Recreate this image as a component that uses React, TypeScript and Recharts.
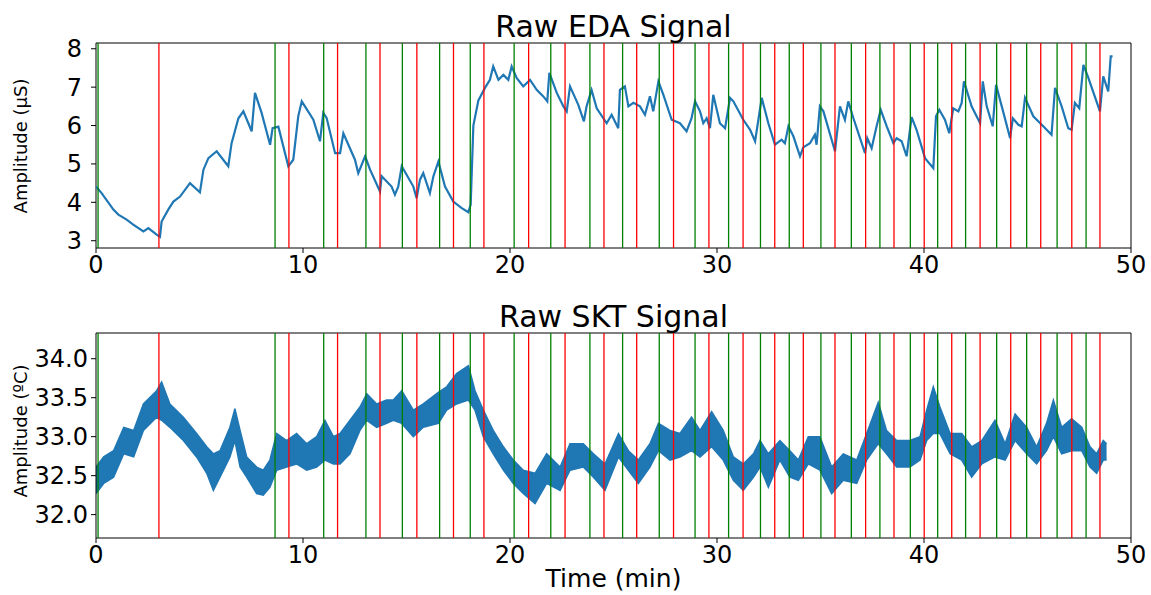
import {
  ComposedChart,
  Line,
  Area,
  XAxis,
  YAxis,
  ReferenceLine,
  ReferenceArea,
} from 'recharts';

const FONT = 'DejaVu Sans, sans-serif';
const BLUE = '#1f77b4';

// event markers (minutes)
const greenMarks = [
  0.1, 8.65, 11.0, 13.04, 14.8, 16.6, 18.08, 20.2, 21.97, 23.86, 25.44, 27.21, 28.94,
  30.56, 32.1, 33.49, 35.02, 36.49, 37.87, 39.34, 40.66, 42.01, 43.51, 44.96, 46.43, 47.83,
];
const redMarks = [
  3.04, 9.32, 11.67, 13.72, 15.5, 17.27, 18.74, 20.9, 22.66, 24.54, 26.12, 27.9, 29.61,
  31.26, 32.79, 34.17, 35.7, 37.18, 38.55, 40.01, 41.34, 42.71, 44.19, 45.64, 47.14, 48.5,
];

const xTicks = [0, 10, 20, 30, 40, 50];
const edaTicks = [3, 4, 5, 6, 7, 8];
const sktTicks = [32, 32.5, 33, 33.5, 34];

// EDA trace
const edaTime = [
  0, 0.27, 0.84, 1.08, 1.48, 1.8, 2.29, 2.53, 2.93, 3.09, 3.17, 3.49, 3.74, 4.06, 4.54, 5.02,
  5.19, 5.43, 5.83, 6.39, 6.55, 6.88, 7.12, 7.52, 7.68, 8.0, 8.41, 8.53, 8.81, 9.29, 9.53, 9.77,
  9.94, 10.5, 10.82, 10.98, 11.14, 11.55, 11.79, 11.95, 12.51, 12.67, 13.0, 13.24, 13.72, 13.8,
  14.28, 14.44, 14.6, 14.77, 15.33, 15.49, 15.65, 15.81, 16.13, 16.3, 16.54, 16.86, 17.26, 17.67,
  17.99, 18.1, 18.23, 18.47, 18.79, 19.03, 19.19, 19.44, 19.68, 19.92, 20.08, 20.32, 20.64, 20.97,
  21.29, 21.61, 21.8, 21.9, 22.26, 22.58, 22.74, 22.9, 23.3, 23.57, 23.7, 23.94, 24.19, 24.67,
  24.91, 25.23, 25.31, 25.55, 25.72, 25.96, 26.28, 26.52, 26.76, 26.92, 27.17, 27.41, 27.81,
  28.21, 28.53, 28.77, 28.94, 29.18, 29.34, 29.5, 29.66, 29.82, 30.14, 30.39, 30.63, 30.79, 31.27,
  31.6, 31.84, 32.16, 32.48, 32.8, 33.12, 33.28, 33.45, 33.69, 34.01, 34.17, 34.49, 34.73, 34.81,
  34.97, 35.14, 35.7, 35.94, 36.18, 36.34, 36.59, 37.15, 37.26, 37.47, 37.71, 37.91, 38.2, 38.52,
  38.68, 38.92, 39.16, 39.4, 39.64, 40.05, 40.45, 40.58, 40.74, 41.01, 41.22, 41.41, 41.66, 41.82,
  41.93, 42.3, 42.71, 42.84, 43.03, 43.32, 43.48, 43.84, 44.16, 44.29, 44.56, 44.72, 44.88, 45.28,
  45.76, 46.16, 46.33, 46.65, 46.97, 47.13, 47.29, 47.5, 47.7, 47.94, 48.5, 48.66, 48.9, 49.02,
  49.11,
];
const edaValue = [
  4.41, 4.24, 3.81, 3.68, 3.55, 3.42, 3.24, 3.33, 3.16, 3.1, 3.5, 3.81, 4.02, 4.15, 4.5, 4.26,
  4.85, 5.15, 5.33, 4.94, 5.54, 6.19, 6.37, 5.85, 6.85, 6.33, 5.5, 5.93, 5.97, 4.94, 5.11, 6.24,
  6.63, 6.15, 5.59, 6.33, 6.2, 5.28, 5.28, 5.8, 5.11, 4.76, 5.2, 4.85, 4.28, 4.68,
  4.41, 4.2, 4.41, 4.94, 4.41, 4.11, 4.59, 4.76, 4.24, 4.68, 5.06, 4.41, 4.02, 3.85,
  3.74, 3.94, 6.0, 6.65, 6.98, 7.19, 7.54, 7.19, 7.32, 7.19, 7.54, 7.24, 7.02, 7.19,
  6.93, 6.76, 6.63, 7.37, 6.85, 6.5, 6.37, 7.02, 6.54, 6.11, 6.5, 6.93, 6.45, 6.06,
  6.28, 5.93, 6.93, 7.02, 6.5, 6.59, 6.5, 6.28, 6.76, 6.37, 7.15, 6.8, 6.15,
  6.06, 5.85, 6.19, 6.63, 6.37, 6.06, 6.19, 5.93, 6.8, 6.06, 5.93, 6.72, 6.63, 6.15,
  5.89, 5.59, 6.72, 6.06, 5.5, 5.63, 5.54, 5.98, 5.72, 5.2, 5.43, 5.54, 5.76, 5.5,
  6.5, 6.37, 5.33, 6.5, 6.15, 6.63, 6.19, 5.28, 5.67, 5.41, 5.98, 6.41, 5.98, 5.54,
  5.67, 5.59, 5.2, 6.22, 5.89, 5.15, 4.89, 6.24, 6.41, 6.15, 5.8, 6.45, 6.37, 6.59,
  7.15, 6.5, 6.06, 7.15, 6.5, 5.98, 7.06, 6.33, 5.67, 6.19, 6.02, 5.98, 6.72, 6.24,
  5.98, 5.76, 6.98, 6.5, 5.93, 5.89, 6.59, 6.45, 7.58, 7.24, 6.37, 7.28, 6.89, 7.8,
  7.8,
];

// SKT trace is a thick noisy band: lower / upper envelope
const sktTime = [
  0, 0.37, 0.85, 1.34, 1.82, 2.29, 2.93, 3.17, 3.57, 4.22, 4.86, 5.35, 5.67, 5.99, 6.47, 6.71,
  6.96, 7.28, 7.76, 8.08, 8.4, 8.73, 9.21, 9.69, 10.18, 10.66, 11.06, 11.47, 11.79, 12.27, 12.75,
  13.08, 13.56, 14.04, 14.36, 14.77, 15.33, 15.81, 16.54, 16.94, 17.42, 17.99, 18.31, 18.71,
  19.19, 19.68, 20.16, 20.64, 21.21, 21.77, 22.42, 22.9, 23.54, 24.03, 24.59, 25.24, 25.72, 26.2,
  26.76, 27.17, 27.73, 28.21, 28.77, 29.18, 29.74, 30.3, 30.79, 31.27, 31.76, 32.08, 32.48, 33.04,
  33.52, 33.93, 34.41, 34.97, 35.54, 36.1, 36.75, 37.23, 37.79, 38.19, 38.68, 39.32, 39.81, 40.13,
  40.45, 40.77, 41.26, 41.82, 42.3, 42.79, 43.43, 43.92, 44.4, 44.96, 45.44, 45.92, 46.25, 46.65,
  47.13, 47.62, 48.02, 48.34, 48.66, 48.82,
];
const sktLow = [
  32.27, 32.4, 32.48, 32.78, 32.74, 33.08, 33.25, 33.21, 33.12, 32.95, 32.74, 32.53, 32.31, 32.48,
  32.74, 32.95, 32.61, 32.48, 32.27, 32.25, 32.35, 32.57, 32.61, 32.65, 32.57, 32.61, 32.7, 32.65,
  32.65, 32.78, 33.08, 33.21, 33.12, 33.17, 33.21, 33.17, 33.0, 33.12, 33.17, 33.34, 33.42, 33.47,
  33.34, 33.0, 32.78, 32.57, 32.4, 32.27, 32.14, 32.4, 32.31, 32.57, 32.61, 32.48, 32.31, 32.74,
  32.57, 32.4, 32.61, 32.82, 32.7, 32.74, 32.82, 32.74, 32.87, 32.7, 32.44, 32.31, 32.48, 32.61,
  32.35, 32.7, 32.48, 32.44, 32.65, 32.57, 32.27, 32.44, 32.4, 32.7, 32.91, 32.78, 32.61, 32.61,
  32.7, 32.95, 33.04, 33.04, 32.78, 32.7, 32.48, 32.65, 32.74, 32.7, 32.95, 32.78, 32.65, 32.82,
  33.0, 32.78, 32.82, 32.82, 32.61, 32.53, 32.7, 32.7,
];
const sktHigh = [
  32.61, 32.74, 32.82, 33.12, 33.08, 33.42, 33.59, 33.7, 33.42, 33.25, 33.04, 32.87, 32.78, 32.82,
  33.12, 33.36, 33.08, 32.74, 32.61, 32.57, 32.7, 33.04, 32.95, 33.04, 32.91, 33.0, 33.21, 33.0,
  33.04, 33.21, 33.38, 33.55, 33.42, 33.47, 33.47, 33.59, 33.34, 33.42, 33.57, 33.64, 33.81, 33.91,
  33.59, 33.34, 33.08, 32.87, 32.7, 32.57, 32.53, 32.78, 32.61, 32.91, 32.91, 32.78, 32.65, 33.04,
  32.82, 32.7, 32.91, 33.17, 33.08, 33.04, 33.25, 33.08, 33.32, 33.08, 32.74, 32.65, 32.78, 32.95,
  32.78, 32.95, 32.82, 32.7, 33.0, 33.0, 32.61, 32.78, 32.7, 33.04, 33.44, 33.08, 32.95, 32.95,
  33.0, 33.34, 33.64, 33.38, 33.04, 33.04, 32.87, 32.95, 33.21, 32.91, 33.29, 33.12, 32.87, 33.17,
  33.47, 33.12, 33.23, 33.12, 32.87, 32.78, 32.95, 32.91,
];

const edaData = edaTime.map((t, i) => ({ t, v: edaValue[i] }));
const sktData = sktTime.map((t, i) => ({ t, range: [sktLow[i], sktHigh[i]] }));

const W = 1151;
const EDA_DOMAIN: [number, number] = [2.81, 8.15];
const SKT_DOMAIN: [number, number] = [31.7, 34.33];

const tickStyle = { fontFamily: FONT, fontSize: 24, fill: '#000' };

function markers() {
  return [
    ...greenMarks.map((t) => (
      <ReferenceLine key={'g' + t} x={t} stroke="#008000" strokeWidth={1.3} />
    )),
    ...redMarks.map((t) => (
      <ReferenceLine key={'r' + t} x={t} stroke="#ff0000" strokeWidth={1.3} />
    )),
  ];
}

export default function App() {
  return (
    <div
      style={{
        position: 'absolute',
        left: 0,
        top: 0,
        width: W,
        height: 595,
        background: '#fff',
      }}
    >
      {/* top panel: EDA */}
      <div style={{ position: 'absolute', left: 0, top: 0 }}>
        <ComposedChart
          width={W}
          height={300}
          data={edaData}
          margin={{ top: 43, right: 20, bottom: 0, left: 16 }}
        >
          <XAxis
            dataKey="t"
            type="number"
            domain={[0, 50]}
            ticks={xTicks}
            allowDataOverflow
            height={52}
            axisLine={false}
            tickLine={{ stroke: '#000' }}
            tickSize={5}
            tickMargin={3}
            tick={tickStyle}
          />
          <YAxis
            type="number"
            domain={EDA_DOMAIN}
            ticks={edaTicks}
            allowDataOverflow
            width={80}
            axisLine={false}
            tickLine={{ stroke: '#000' }}
            tickSize={5}
            tickMargin={9}
            tick={tickStyle}
          />
          <Line
            type="linear"
            dataKey="v"
            stroke={BLUE}
            strokeWidth={2.2}
            dot={false}
            activeDot={false}
            isAnimationActive={false}
          />
          {markers()}
          <ReferenceArea
            x1={0}
            x2={50}
            y1={EDA_DOMAIN[0]}
            y2={EDA_DOMAIN[1]}
            fill="none"
            stroke="#000"
            strokeWidth={1}
          />
        </ComposedChart>
      </div>

      {/* bottom panel: SKT */}
      <div style={{ position: 'absolute', left: 0, top: 290 }}>
        <ComposedChart
          width={W}
          height={305}
          data={sktData}
          margin={{ top: 43, right: 20, bottom: 0, left: 16 }}
        >
          <XAxis
            dataKey="t"
            type="number"
            domain={[0, 50]}
            ticks={xTicks}
            allowDataOverflow
            height={57}
            axisLine={false}
            tickLine={{ stroke: '#000' }}
            tickSize={5}
            tickMargin={3}
            tick={tickStyle}
          />
          <YAxis
            type="number"
            domain={SKT_DOMAIN}
            ticks={sktTicks}
            allowDataOverflow
            width={80}
            axisLine={false}
            tickLine={{ stroke: '#000' }}
            tickSize={5}
            tickMargin={3}
            tick={tickStyle}
            tickFormatter={(v: number) => v.toFixed(1)}
          />
          <Area
            type="linear"
            dataKey="range"
            stroke={BLUE}
            strokeWidth={1.5}
            fill={BLUE}
            fillOpacity={1}
            dot={false}
            activeDot={false}
            isAnimationActive={false}
          />
          {markers()}
          <ReferenceArea
            x1={0}
            x2={50}
            y1={SKT_DOMAIN[0]}
            y2={SKT_DOMAIN[1]}
            fill="none"
            stroke="#000"
            strokeWidth={1}
          />
        </ComposedChart>
      </div>

      {/* titles and axis labels */}
      <svg
        width={W}
        height={595}
        style={{ position: 'absolute', left: 0, top: 0, pointerEvents: 'none' }}
      >
        <g fontFamily={FONT} fill="#000">
          <text x={613.5} y={37} fontSize={30} textAnchor="middle">
            Raw EDA Signal
          </text>
          <text x={613.5} y={327} fontSize={30} textAnchor="middle">
            Raw SKT Signal
          </text>
          <text x={613.5} y={587} fontSize={25} textAnchor="middle">
            Time (min)
          </text>
          <text transform="translate(27,146) rotate(-90)" fontSize={18} textAnchor="middle">
            Amplitude (µS)
          </text>
          <text transform="translate(27,431) rotate(-90)" fontSize={18} textAnchor="middle">
            Amplitude (ºC)
          </text>
        </g>
      </svg>
    </div>
  );
}
